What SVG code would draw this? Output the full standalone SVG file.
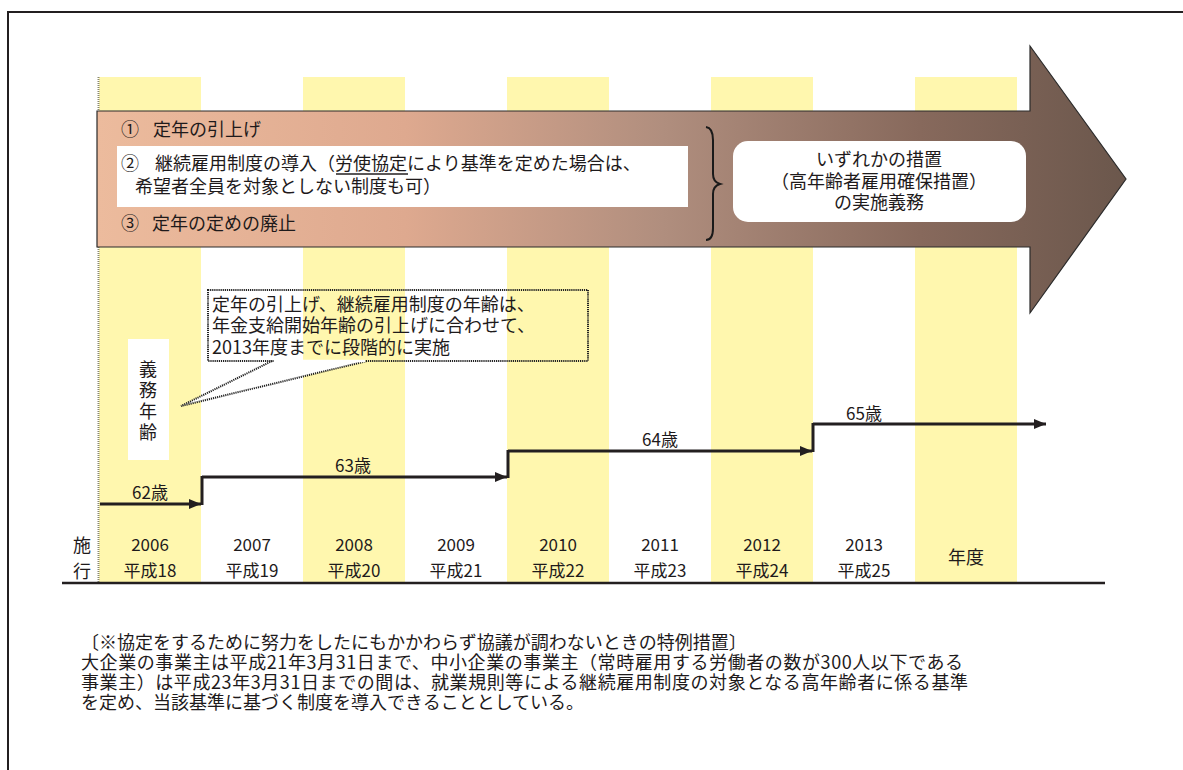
<svg xmlns="http://www.w3.org/2000/svg" width="1183" height="770" viewBox="0 0 1183 770">
<style>
text{font-family:"Noto Sans CJK JP","Noto Sans CJK SC",sans-serif;fill:#1e1a1b;}
.t18{font-size:18px;}
.t17{font-size:17px;}
.mid{text-anchor:middle;}
.col{fill:#fff7ae;}
.step{stroke:#231f20;stroke-width:3;fill:none;}
.dot{stroke:#222;stroke-width:2;stroke-dasharray:1.2 0.9;fill:none;}
</style>
<defs>
<linearGradient id="ag" gradientUnits="userSpaceOnUse" x1="97" y1="0" x2="1126" y2="0">
<stop offset="0" stop-color="#ecbb9d"/>
<stop offset="0.3" stop-color="#dea98f"/>
<stop offset="0.55" stop-color="#b08e7e"/>
<stop offset="0.8" stop-color="#87695c"/>
<stop offset="1" stop-color="#6b574c"/>
</linearGradient>
<marker id="ah" viewBox="0 0 12 10" markerWidth="12" markerHeight="10" refX="12" refY="5" orient="auto" markerUnits="userSpaceOnUse">
<path d="M0,0 L12,5 L0,10 Z" fill="#231f20"/>
</marker>
</defs>
<rect width="1183" height="770" fill="#fff"/>
<!-- frame -->
<path d="M8,770 V12 H1183" fill="none" stroke="#231f20" stroke-width="2"/>
<!-- year columns -->
<g id="columns">
<rect class="col" x="99" y="77" width="102" height="506"/>
<rect class="col" x="303" y="77" width="102" height="506"/>
<rect class="col" x="507" y="77" width="102" height="506"/>
<rect class="col" x="711" y="77" width="102" height="506"/>
<rect class="col" x="915" y="77" width="102" height="506"/>
<line x1="98.5" y1="77" x2="98.5" y2="583" stroke="#8c8a70" stroke-width="2" stroke-dasharray="1 1"/>
</g>
<!-- big arrow -->
<g id="big-arrow">
<path d="M97,111 H1030 V46 L1126,179 L1030,313 V247 H97 Z" fill="url(#ag)" stroke="#2a2a2a" stroke-width="1.2"/>
</g>
<g id="item1"><text class="t18" x="121" y="136">①</text><text class="t18" x="153" y="136">定年の引上げ</text></g>
<g id="item2">
<rect x="117" y="146" width="571" height="61" fill="#fff"/>
<text class="t18" x="121" y="170">②</text>
<text class="t18" x="155" y="170">継続雇用制度の導入（労使協定により基準を定めた場合は、</text>
<line x1="336" y1="174" x2="408" y2="174" stroke="#231f20" stroke-width="1.3"/>
<text class="t18" x="135" y="193">希望者全員を対象としない制度も可）</text>
</g>
<g id="item3"><text class="t18" x="121" y="230">③</text><text class="t18" x="152" y="230">定年の定めの廃止</text></g>
<g id="brace">
<path d="M706,127 Q713,128 713,140 V174 Q713,182 720,184 Q713,186 713,194 V228 Q713,240 706,240" fill="none" stroke="#1a1a1a" stroke-width="2"/>
</g>
<g id="obligation">
<rect x="733" y="141" width="293" height="81" rx="15" fill="#fff"/>
<text class="t18 mid" x="879" y="166">いずれかの措置</text>
<text class="t18 mid" x="879" y="188">（高年齢者雇用確保措置）</text>
<text class="t18 mid" x="879" y="209">の実施義務</text>
</g>
<!-- callout -->
<g id="callout">
<path d="M272,361 L181,406 L367,361 Z" fill="#fff"/>
<rect x="208" y="290" width="380" height="71" fill="#fff" class="dot"/>
<path d="M272,361 L181,406 L367,361" class="dot"/>
<line x1="274" y1="361" x2="365" y2="361" stroke="#fff" stroke-width="2.4"/>
<text class="t18" x="212" y="311">定年の引上げ、継続雇用制度の年齢は、</text>
<text class="t18" x="212" y="332">年金支給開始年齢の引上げに合わせて、</text>
<text class="t18" x="212" y="354">2013年度までに段階的に実施</text>
</g>
<g id="gimu-label">
<rect x="128" y="339" width="41" height="121" fill="#fff"/>
<text class="t18 mid" x="148" y="376">義</text>
<text class="t18 mid" x="148" y="397">務</text>
<text class="t18 mid" x="148" y="418">年</text>
<text class="t18 mid" x="148" y="439">齢</text>
</g>
<!-- step connectors -->
<g id="connectors">
<line class="step" x1="100" y1="504" x2="201" y2="504" marker-end="url(#ah)"/>
<line class="step" x1="202" y1="505" x2="202" y2="476"/>
<line class="step" x1="202" y1="477" x2="507" y2="477" marker-end="url(#ah)"/>
<line class="step" x1="508" y1="478" x2="508" y2="450"/>
<line class="step" x1="508" y1="451" x2="812" y2="451" marker-end="url(#ah)"/>
<line class="step" x1="813" y1="452" x2="813" y2="423"/>
<line class="step" x1="813" y1="424" x2="1046" y2="424" marker-end="url(#ah)"/>
</g>
<g id="age-labels">
<text class="t17 mid" x="150" y="499">62歳</text>
<text class="t17 mid" x="353" y="472">63歳</text>
<text class="t17 mid" x="660" y="446">64歳</text>
<text class="t17 mid" x="864" y="420">65歳</text>
</g>
<!-- axis -->
<g id="axis">
<line x1="62" y1="583" x2="1105" y2="583" stroke="#231f20" stroke-width="2.5"/>
<text class="t18 mid" x="82" y="552">施</text>
<text class="t18 mid" x="82" y="578">行</text>
<text class="t17 mid" x="150" y="551">2006</text><text class="t17 mid" x="150" y="577">平成18</text>
<text class="t17 mid" x="252" y="551">2007</text><text class="t17 mid" x="252" y="577">平成19</text>
<text class="t17 mid" x="354" y="551">2008</text><text class="t17 mid" x="354" y="577">平成20</text>
<text class="t17 mid" x="456" y="551">2009</text><text class="t17 mid" x="456" y="577">平成21</text>
<text class="t17 mid" x="558" y="551">2010</text><text class="t17 mid" x="558" y="577">平成22</text>
<text class="t17 mid" x="660" y="551">2011</text><text class="t17 mid" x="660" y="577">平成23</text>
<text class="t17 mid" x="762" y="551">2012</text><text class="t17 mid" x="762" y="577">平成24</text>
<text class="t17 mid" x="864" y="551">2013</text><text class="t17 mid" x="864" y="577">平成25</text>
<text class="t18 mid" x="966" y="564">年度</text>
</g>
<g id="note">
<text class="t18" x="81" y="649">〔※協定をするために努力をしたにもかかわらず協議が調わないときの特例措置〕</text>
<text class="t18" x="81" y="669" textLength="882" lengthAdjust="spacing">大企業の事業主は平成21年3月31日まで、中小企業の事業主（常時雇用する労働者の数が300人以下である</text>
<text class="t18" x="81" y="689" textLength="887" lengthAdjust="spacing">事業主）は平成23年3月31日までの間は、就業規則等による継続雇用制度の対象となる高年齢者に係る基準</text>
<text class="t18" x="81" y="709">を定め、当該基準に基づく制度を導入できることとしている。</text>
</g>
</svg>
